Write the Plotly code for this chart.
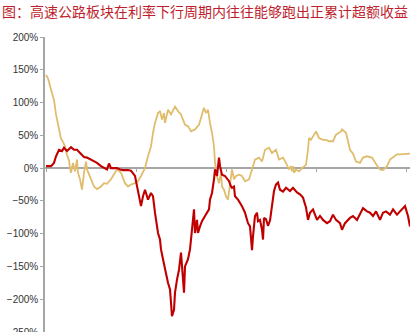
import plotly.graph_objects as go

# period index (weeks) and cumulative excess return (%) — gold series
gold_t = [1, 3, 6, 9, 11, 14, 16, 18, 20, 22, 24, 25, 26, 28, 30, 32, 33, 35, 37, 39, 41, 42, 46, 49, 52, 56, 59, 62, 66, 69, 72,
          76, 80, 83, 86, 90, 93, 96, 100, 103, 106, 108, 110, 113, 115, 117, 119, 120, 123, 126, 130, 133, 136, 140, 143,
          146, 150, 154, 157, 159, 161, 163, 165, 167, 169, 170, 172, 174, 176, 177, 179, 181, 183, 186, 187, 189, 191,
          194, 197, 200, 204, 207, 210, 214, 217, 220, 224, 227, 231, 234, 238, 241, 244, 246, 247, 248, 249, 251, 254,
          257, 261, 263, 264, 266, 268, 271, 274, 278, 281, 284, 288, 291, 296, 297, 301, 303, 305, 308, 311, 315, 318,
          322, 327, 332, 335, 338, 342, 345, 348, 352, 355, 360, 365]
gold_v = [142, 137, 120, 104, 82, 62, 45, 40, 33, 20, 12, 0, -7, 8, -5, 13, -7, -17, -33, -7, 10, -2, -17, -28, -32, -28, -23,
          -24, -17, -10, -2, -7, -23, -28, -25, -23, -20, -12, 0, 18, 33, 54, 69, 84, 87, 74, 84, 69, 89, 82, 94, 87, 82,
          66, 64, 56, 59, 66, 84, 92, 84, 89, 69, 54, 33, 8, -12, -23, -7, -28, -33, -43, -48, -12, -2, -17, -12,
          -10, -12, -20, -17, -2, 13, 16, 10, 28, 31, 23, 28, 13, 16, 8, -2, 3, -5, 3, -7, -2, -5,
          0, 5, 28, 46, 43, 48, 56, 46, 43, 43, 41, 41, 51, 56, 59, 54, 40, 28, 22, 10, 8, 16, 18,
          16, 4, -2, -3, 3, 13, 16, 21, 21, 21, 22]

# red series
red_t = [1, 6, 9, 11, 14, 17, 19, 22, 26, 29, 32, 36, 39, 42, 46, 49, 52, 56, 59, 62, 64, 66, 69, 72, 75, 78, 83, 86, 90,
         93, 95, 96, 98, 100, 101, 103, 106, 108, 110, 111, 113, 115, 116, 118, 120, 122, 123, 125, 126, 127, 129, 130,
         132, 134, 136, 137, 139, 140, 143, 145, 146, 147, 149, 150, 152, 153, 155, 157, 160, 164, 165, 167, 169, 170,
         172, 174, 175, 177, 180, 182, 184, 186, 187, 189, 190, 193, 197, 200, 203, 205, 207, 208, 210, 212, 213, 215,
         217, 218, 219, 221, 223, 225, 227, 229, 231, 233, 235, 238, 241, 245, 248, 252, 255, 258, 261, 263, 265, 268,
         272, 275, 278, 282, 285, 288, 291, 295, 297, 300, 305, 308, 312, 315, 318, 322, 325, 328, 331, 335, 338, 341,
         345, 348, 352, 355, 358, 360, 363, 365]
red_v = [3, 3, 8, 18, 28, 26, 31, 26, 32, 28, 28, 21, 17, 16, 13, 10, 8, 3, 0, -2, 7, 0, 0, 0, -2, -3, -3, -4, -12,
         -33, -48, -58, -43, -33, -38, -48, -38, -43, -68, -79, -99, -109, -124, -139, -155, -165, -175, -185, -205, -226,
         -216, -190, -170, -155, -129, -155, -190, -150, -139, -124, -104, -94, -63, -99, -79, -99, -89, -81, -73, -63,
         -48, -38, -17, -2, -12, 16, 3, -10, -12, -17, -20, -28, -30, -28, -43, -48, -58, -68, -84, -89, -125, -104,
         -73, -68, -81, -79, -94, -109, -76, -78, -88, -80, -55, -35, -25, -22, -33, -36, -30, -35, -30, -37, -40, -45,
         -60, -79, -68, -63, -79, -73, -79, -84, -81, -71, -79, -84, -94, -84, -76, -73, -79, -71, -61, -66, -68, -73,
         -66, -79, -68, -66, -71, -63, -71, -66, -61, -58, -73, -89, -99]

y_ticks = [-250, -200, -150, -100, -50, 0, 50, 100, 150, 200]
y_labels = ["−250%", "−200%", "−150%", "−100%", "−50%", "0%", "50%", "100%", "150%", "200%"]

fig = go.Figure()
fig.add_trace(go.Scatter(x=gold_t, y=gold_v, mode="lines",
                         line=dict(color="#E0BD6C", width=1.8), showlegend=False))
fig.add_trace(go.Scatter(x=red_t, y=red_v, mode="lines",
                         line=dict(color="#C00000", width=2.1), showlegend=False))

fig.update_layout(
    width=411, height=332,
    margin=dict(l=45, r=1, t=37, b=0, autoexpand=False),
    paper_bgcolor="white", plot_bgcolor="white",
    title=dict(text="图：高速公路板块在利率下行周期内往往能够跑出正累计超额收益",
               x=2 / 411, xanchor="left", xref="container", y=1 - 12 / 332, yanchor="middle", yref="container",
               font=dict(family="Noto Sans CJK SC", size=14, color="#BE1E2D")),
    xaxis=dict(range=[0, 365], anchor="free", position=250 / 450, automargin=False,
               showline=True, linecolor="#A6A6A6", linewidth=1.5,
               ticks="outside", ticklen=3, tickcolor="#A6A6A6", tickwidth=1,
               tick0=1, dtick=90, showticklabels=False,
               showgrid=False, zeroline=False, layer="below traces"),
    yaxis=dict(range=[-250, 200], tickvals=y_ticks, ticktext=y_labels, ticklabeloverflow="allow",
               automargin=False,
               showline=True, linecolor="#A6A6A6", linewidth=1.5,
               ticks="outside", ticklen=3, tickcolor="#A6A6A6",
               showgrid=False, zeroline=False, layer="below traces",
               tickfont=dict(family="Liberation Sans", size=10, color="#333333")),
)

fig.write_html("out.html")
